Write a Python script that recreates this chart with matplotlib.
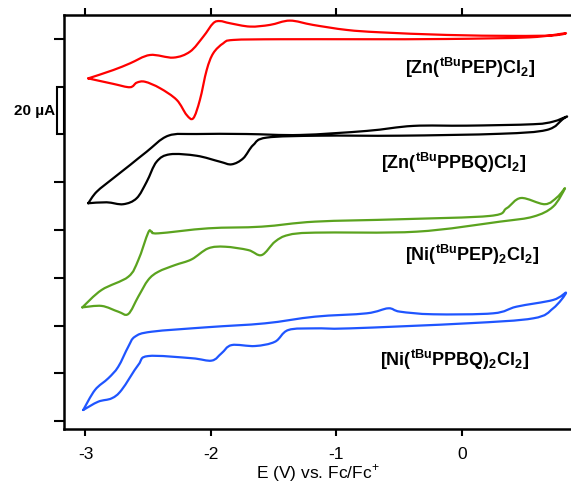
import matplotlib
matplotlib.use("Agg")
import matplotlib.pyplot as plt
from matplotlib.patches import Rectangle, PathPatch
from matplotlib.path import Path
import matplotlib.transforms as mtransforms
import numpy as np

plt.rcParams['font.family'] = ['Liberation Sans', 'DejaVu Sans']
plt.rcParams['mathtext.fontset'] = 'custom'
plt.rcParams['mathtext.rm'] = 'Liberation Sans:bold'
plt.rcParams['mathtext.bf'] = 'Liberation Sans:bold'
plt.rcParams['mathtext.it'] = 'Liberation Sans:bold'

# ---- data (E in V vs Fc/Fc+, I in µA with vertical offsets) ----
red_E = [-2.978, -2.778, -2.645, -2.486, -2.300, -2.167, -2.061, -1.982, -1.928, -1.849,
         -1.689, -1.530, -1.371, -1.187, -0.919, -0.653, -0.122, 0.406, 0.725, 0.821,
         0.542, -0.122, -0.789, -1.450, -1.822, -1.902, -1.982, -2.034, -2.088, -2.141,
         -2.194, -2.273, -2.406, -2.526, -2.592, -2.645, -2.778, -2.978]
red_I = [143.5, 147.0, 149.8, 153.3, 152.2, 154.7, 161.0, 166.6, 167.5, 166.6,
         165.2, 165.9, 167.7, 165.9, 163.8, 162.8, 161.7, 161.3, 161.5, 162.4,
         160.7, 160.0, 159.9, 159.9, 159.6, 158.2, 154.0, 147.0, 134.5, 126.8,
         128.2, 134.5, 139.4, 142.1, 141.7, 139.8, 141.2, 143.5]

black_E = [-2.978, -2.911, -2.778, -2.645, -2.512, -2.340, -2.114, -1.716, -1.291, -0.759,
           -0.388, 0.037, 0.568, 0.727, 0.834, 0.805, 0.675, 0.303, -0.494, -1.131,
           -1.556, -1.663, -1.743, -1.835, -1.928, -2.114, -2.327, -2.433, -2.512, -2.592,
           -2.699, -2.831, -2.978]
black_I = [91.2, 96.0, 101.7, 107.2, 112.8, 119.5, 120.2, 120.2, 119.8, 121.5,
           123.6, 123.7, 124.3, 125.4, 127.5, 126.5, 121.9, 120.3, 119.5, 119.5,
           118.7, 115.6, 110.0, 107.5, 108.6, 111.1, 111.7, 108.6, 100.2, 93.3,
           90.8, 91.6, 91.2]

green_E = [-3.025, -2.871, -2.659, -2.579, -2.500, -2.473, -2.420, -2.022, -1.596, -1.171,
           -0.494, 0.223, 0.356, 0.470, 0.660, 0.760, 0.821, 0.727, 0.568, 0.303,
           -0.361, -1.171, -1.384, -1.490, -1.596, -1.703, -1.888, -2.022, -2.154, -2.287,
           -2.420, -2.500, -2.579, -2.659, -2.739, -2.871, -3.025]
green_I = [47.6, 54.9, 60.4, 67.4, 78.9, 79.3, 78.6, 80.7, 81.4, 83.5,
           84.5, 85.9, 89.1, 93.4, 90.8, 93.8, 97.5, 89.8, 85.6, 83.5,
           79.3, 78.9, 77.9, 75.1, 69.5, 71.6, 73.0, 72.3, 67.7, 65.3,
           62.5, 59.1, 52.1, 44.8, 45.8, 48.2, 47.6]

blue_E = [-3.018, -2.924, -2.818, -2.739, -2.659, -2.606, -2.473, -2.022, -1.570, -1.171,
          -0.759, -0.587, -0.494, -0.229, 0.249, 0.436, 0.727, 0.829, 0.727, 0.568,
          0.037, -0.892, -1.171, -1.384, -1.490, -1.649, -1.835, -1.915, -1.994, -2.154,
          -2.500, -2.579, -2.712, -2.791, -2.898, -3.018]
blue_I = [4.6, 13.0, 17.9, 22.7, 31.1, 35.3, 37.4, 39.3, 40.9, 43.7,
          45.1, 47.2, 45.8, 44.7, 45.1, 47.9, 50.7, 53.7, 47.2, 43.0,
          40.9, 38.8, 38.8, 38.1, 33.2, 31.4, 31.8, 28.4, 25.3, 26.3,
          27.2, 23.5, 13.0, 9.5, 8.1, 4.6]

labels = [r'[Zn($^{\mathbf{tBu}}$PEP)Cl$_{\mathbf{2}}$]',
          r'[Zn($^{\mathbf{tBu}}$PPBQ)Cl$_{\mathbf{2}}$]',
          r'[Ni($^{\mathbf{tBu}}$PEP)$_{\mathbf{2}}$Cl$_{\mathbf{2}}$]',
          r'[Ni($^{\mathbf{tBu}}$PPBQ)$_{\mathbf{2}}$Cl$_{\mathbf{2}}$]']
label_E = [0.064, -0.068, 0.08, -0.056]
label_I = [148.0, 108.0, 69.5, 25.5]

xticks = [-3, -2, -1, 0]
yticks = [0, 20, 40, 60, 80, 100, 160]
scale_bar = (120, 140)

colors = ['#ff0000', '#000000', '#5ba31f', '#1f55ff']


def smooth_path(E, I):
    """Catmull-Rom curve through the points, drawn as cubic Bezier segments."""
    P = np.column_stack([E, I])
    n = len(P)
    verts = [P[0]]
    codes = [Path.MOVETO]
    for i in range(n - 1):
        p0 = P[i - 1] if i > 0 else P[i]
        p1 = P[i]
        p2 = P[i + 1]
        p3 = P[i + 2] if i + 2 < n else P[i + 1]
        c1 = p1 + (p2 - p0) / 6.0
        c2 = p2 - (p3 - p1) / 6.0
        verts += [c1, c2, p2]
        codes += [Path.CURVE4] * 3
    return Path(verts, codes)


fig = plt.figure(figsize=(5.71, 4.86), dpi=100)
ax = fig.add_axes([64/571, 1-429/486, 1-64/571, (429-15)/486])

for E, I, c in zip([red_E, black_E, green_E, blue_E], [red_I, black_I, green_I, blue_I], colors):
    ax.add_patch(PathPatch(smooth_path(E, I), facecolor='none', edgecolor=c,
                           lw=1.6, joinstyle='round', capstyle='round'))

for t, e, i in zip(labels, label_E, label_I):
    ax.text(e, i, t, ha='center', va='center', fontsize=13, fontweight='bold')

ax.set_xlim(-3.171, 0.869)
ax.set_ylim(-3.35, 170.05)
ax.set_xticks(xticks)
ax.set_xticklabels(['-3', '-2', '-1', '0'], fontsize=12.5)
ax.set_yticks(yticks)
ax.set_yticklabels([])
ax.tick_params(axis='x', which='both', direction='out', length=5, width=1.5,
               top=True, pad=8, color='black')
ax.tick_params(axis='y', direction='out', length=7, width=1.5)
for s in ['left', 'top', 'bottom']:
    ax.spines[s].set_linewidth(1.8)
ax.spines['right'].set_visible(False)

trans = mtransforms.blended_transform_factory(ax.transAxes, ax.transData)
ax.add_patch(Rectangle((-7/507, scale_bar[0]), 7/507, scale_bar[1]-scale_bar[0],
                       transform=trans, facecolor='white', edgecolor='black',
                       lw=1.5, clip_on=False))
ax.text(-9/507, (scale_bar[0]+scale_bar[1])/2, '20 µA', transform=trans,
        ha='right', va='center', fontsize=11, fontweight='bold')

ax.set_xlabel('E (V) vs. Fc/Fc$^{\\mathregular{+}}$', fontsize=12.5, labelpad=0.5)
ax.xaxis.label.set_math_fontfamily('dejavusans')

fig.savefig('out.png', dpi=100)
